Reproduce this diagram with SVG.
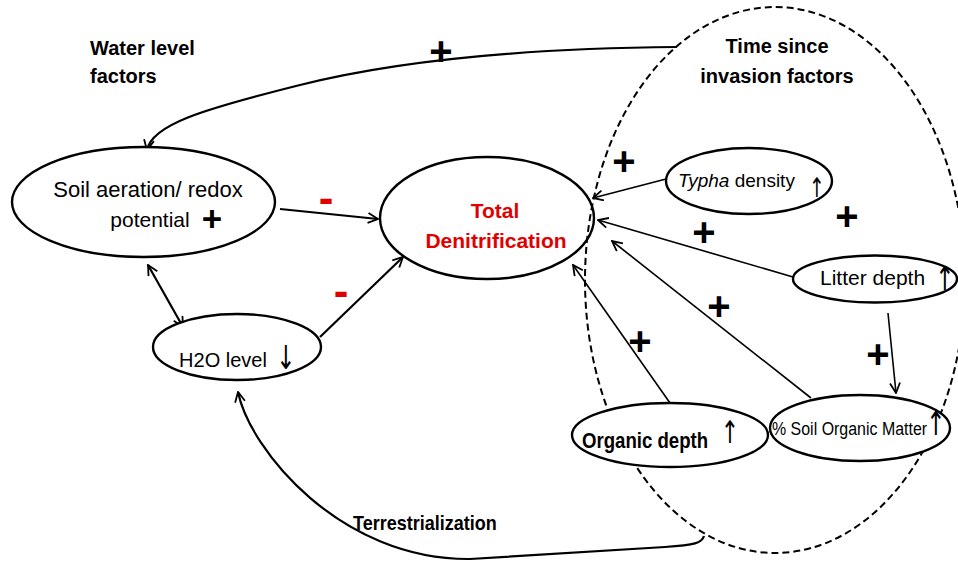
<svg xmlns="http://www.w3.org/2000/svg" width="958" height="561" viewBox="0 0 958 561">
<style>
.node{fill:#fff;stroke:#000;stroke-width:2.4}
.t{font-family:"Liberation Sans",Arial,sans-serif;fill:#000}
.b{font-weight:bold}
.plus{font-family:"Liberation Sans",Arial,sans-serif;font-weight:bold;font-size:40px;text-anchor:middle;fill:#000}
.minus{font-family:"Liberation Sans",Arial,sans-serif;font-weight:bold;font-size:44px;text-anchor:middle;fill:#e00000}
.arr{font-family:"DejaVu Sans",sans-serif;font-size:33px;text-anchor:middle;fill:#000}
.c{fill:none;stroke:#000;stroke-width:2.2}
.c2{fill:none;stroke:#000;stroke-width:1.6}
</style>
<defs>
<marker id="ah" viewBox="0 0 12 12" refX="11" refY="6" markerWidth="12" markerHeight="12" markerUnits="userSpaceOnUse" orient="auto-start-reverse">
<path d="M1,1 L11,6 L1,11" fill="none" stroke="#000" stroke-width="1.8"/>
</marker>
</defs>
<rect width="958" height="561" fill="#fff"/>

<g id="total-denitrification">
<ellipse cx="487" cy="218" rx="107" ry="61" fill="none" stroke="#000" stroke-width="2.4"/>
<text class="t b" x="495" y="218" font-size="21" text-anchor="middle" style="fill:#e00000">Total</text>
<text class="t b" x="496" y="248" font-size="21" text-anchor="middle" style="fill:#e00000">Denitrification</text>
</g>

<g id="time-since-invasion">
<ellipse cx="775" cy="280" rx="190" ry="273" fill="none" stroke="#000" stroke-width="2" stroke-dasharray="7 4"/>
<text class="t b" x="777" y="53" font-size="20" text-anchor="middle">Time since</text>
<text class="t b" x="777" y="83" font-size="20" text-anchor="middle">invasion factors</text>
</g>

<g id="water-level-label">
<text class="t b" x="90" y="55" font-size="20">Water level</text>
<text class="t b" x="90" y="83" font-size="20">factors</text>
</g>

<g id="connectors">
<path class="c" d="M677 47 C560 48 420 55 300 85 C200 110 152 125 147 150" marker-end="url(#ah)"/>
<path class="c" d="M280 209 L378 219" marker-end="url(#ah)"/>
<path class="c" d="M320 337 L403 257" marker-end="url(#ah)"/>
<path class="c" d="M148 265 L183 327" marker-start="url(#ah)" marker-end="url(#ah)"/>
<path class="c" d="M704 536 C702 543 695 545 665 547 L470 559 C340 560 250 450 238 392" marker-end="url(#ah)"/>
<path class="c2" d="M666 179 L593 198" marker-end="url(#ah)"/>
<path class="c2" d="M793 277 L598 220" marker-end="url(#ah)"/>
<path class="c2" d="M811 398 L612 241" marker-end="url(#ah)"/>
<path class="c2" d="M670 403 L573 265" marker-end="url(#ah)"/>
<path class="c2" d="M888 313 L896 393" marker-end="url(#ah)"/>
<text class="plus" x="441" y="65">+</text>
<text class="minus" x="326" y="213">-</text>
<text class="minus" x="341" y="306">-</text>
<text class="plus" x="624" y="175">+</text>
<text class="plus" x="847" y="230">+</text>
<text class="plus" x="704" y="246">+</text>
<text class="plus" x="719" y="320">+</text>
<text class="plus" x="640" y="355">+</text>
<text class="plus" x="878" y="368">+</text>
<text class="t b" transform="translate(353,530) scale(0.9,1)" font-size="20">Terrestrialization</text>
</g>

<g id="soil-aeration">
<ellipse class="node" cx="143.5" cy="202" rx="131.5" ry="55"/>
<text class="t" x="148" y="197" font-size="22" text-anchor="middle">Soil aeration/ redox</text>
<text class="t" x="150" y="227" font-size="21" text-anchor="middle">potential</text>
<text class="plus" x="212" y="231" style="font-size:35px">+</text>
</g>

<g id="h2o-level">
<ellipse class="node" cx="237" cy="347" rx="84" ry="33"/>
<text class="t" x="223" y="367" font-size="20" text-anchor="middle">H2O level</text>
<text class="arr" transform="translate(286,369) scale(0.7,1)">↓</text>
</g>

<g id="typha-density">
<ellipse class="node" cx="749" cy="181" rx="83" ry="33"/>
<text class="t" x="678" y="187" font-size="19"><tspan font-style="italic">Typha</tspan> density</text>
<text class="arr" transform="translate(817,197) scale(0.7,1)" style="font-size:27px">↑</text>
</g>

<g id="litter-depth">
<ellipse class="node" cx="875" cy="279" rx="82" ry="23.5"/>
<text class="t" x="820" y="285" font-size="21">Litter depth</text>
<text class="arr" transform="translate(945,290) scale(0.7,1)">↑</text>
</g>

<g id="organic-depth">
<ellipse class="node" cx="670" cy="435" rx="98" ry="32" stroke-width="3"/>
<text class="t b" transform="translate(582,448) scale(0.81,1)" font-size="23">Organic depth</text>
<text class="arr" transform="translate(730,443) scale(0.7,1)" style="font-size:31px">↑</text>
</g>

<g id="soil-organic-matter">
<ellipse class="node" cx="860" cy="428" rx="90" ry="33"/>
<text class="t" transform="translate(772,435) scale(0.84,1)" font-size="19">% Soil Organic Matter</text>
<text class="arr" transform="translate(936,435) scale(0.7,1)">↑</text>
</g>
</svg>
